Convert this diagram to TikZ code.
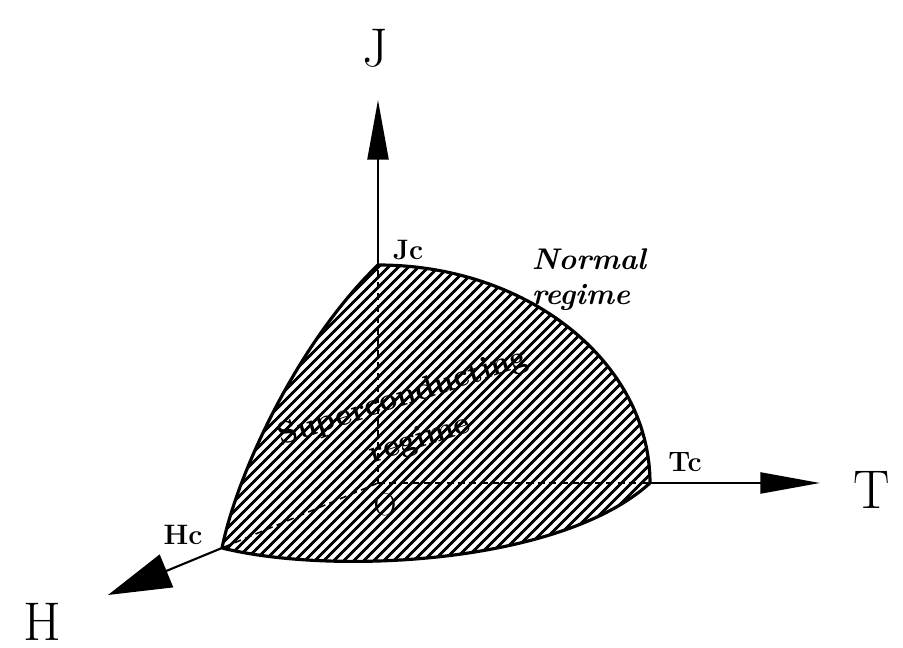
\documentclass[tikz,border=0pt]{standalone}
\usepackage{tikz}
\usetikzlibrary{arrows.meta, patterns.meta}

\begin{document}
\begin{tikzpicture}[
  axis/.style={line width=1.2pt, -{Triangle[length=34pt, width=12pt]}},
  hidden/.style={line width=0.9pt, dashed, dash pattern=on 4pt off 2.5pt},
  edge/.style={line width=1.8pt},
  big/.style={font=\fontsize{31}{34}\selectfont},
  tag/.style={font=\fontsize{16}{19}\selectfont\bfseries},
  regime/.style={font=\fontsize{17}{20}\selectfont\bfseries\itshape, align=left},
  inside/.style={font=\fontsize{18}{20}\selectfont\bfseries, rotate=18, inner sep=1pt},
]
  \useasboundingbox (0,0) rectangle (18.06,12.96);
  % corners of the phase surface
  \coordinate (O) at (7.56,3.30);
  \coordinate (Jc) at (7.56,7.66);
  \coordinate (Tc) at (13.0,3.30);
  \coordinate (Hc) at (4.44,2.0);
  \coordinate (Jtip) at (7.56,10.96);
  \coordinate (Ttip) at (16.4,3.30);
  \coordinate (Htip) at (2.16,1.06);

  % hatched superconducting region
  \fill[pattern={Lines[angle=45, distance=4pt, line width=1.7pt]}]
    (Hc) .. controls (4.76,3.56) and (6.0,6.16) .. (Jc)
    arc[start angle=90, end angle=0, x radius=5.44, y radius=4.36]
    .. controls (11.2,1.66) and (6.6,1.46) .. (Hc) -- cycle;
  \draw[edge] (Hc) .. controls (4.76,3.56) and (6.0,6.16) .. (Jc);
  \draw[edge] (Jc) arc[start angle=90, end angle=0, x radius=5.44, y radius=4.36];
  \draw[edge] (Tc) .. controls (11.2,1.66) and (6.6,1.46) .. (Hc);

  % axes
  \draw[hidden] (O) -- (Jc);
  \draw[hidden] (O) -- (Tc);
  \draw[hidden] (O) -- (Hc);
  \draw[axis] (Jc) -- (Jtip);
  \draw[axis] (Tc) -- (Ttip);
  \draw[axis, -{Triangle[length=36pt, width=20pt]}] (Hc) -- (Htip);

  \node[big] (J) at (7.5,12.0) {J};
  \node[big] (T) at (17.44,3.16) {T};
  \node[big] (H) at (0.84,0.52) {H};
  \node[tag] (JcL) at (8.16,7.96) {Jc};
  \node[tag] (TcL) at (13.7,3.72) {Tc};
  \node[tag] (HcL) at (3.66,2.26) {Hc};
  \node[font=\fontsize{18}{21}\selectfont] (OL) at (7.7,2.86) {O};
  \node[regime] (nr) at (11.78,7.36) {Normal\\regime};
  \node[inside] (sup) at (8.06,5.0) {Superconducting};
  \node[inside] (reg) at (8.4,4.16) {regime};
\end{tikzpicture}
\end{document}
